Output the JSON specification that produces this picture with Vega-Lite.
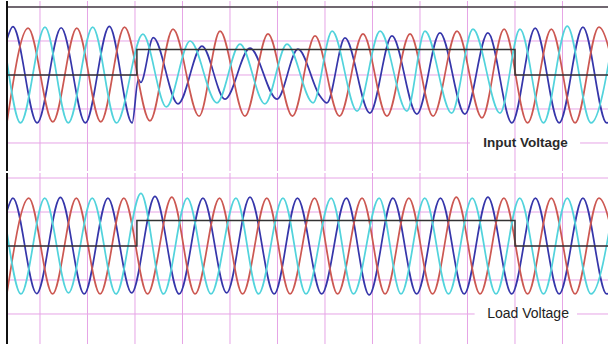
{
  "$schema": "https://vega.github.io/schema/vega-lite/v6.json",
  "padding": 0,
  "spacing": 0,
  "background": "white",
  "config": {
    "view": {"stroke": null}
  },
  "datasets": {
    "vgrid": [{"t":0},{"t":20},{"t":40},{"t":60},{"t":80},{"t":100},{"t":120},{"t":140},{"t":160},{"t":180},{"t":200},{"t":220}],
    "hgrid": [{"v":-200},{"v":-100},{"v":0},{"v":100},{"v":200}],
    "input": [
      {"s":"B","t":-13.9,"v":105},{"s":"B","t":-11.4,"v":142},{"s":"B","t":-1.2,"v":-141},{"s":"B","t":8.9,"v":139},{"s":"B","t":19.1,"v":-141},{"s":"B","t":29.2,"v":143},{"s":"B","t":38.8,"v":-141},{"s":"B","t":41.4,"v":-13},{"s":"B","t":42.4,"v":-22},{"s":"B","t":47.7,"v":110},{"s":"B","t":58.1,"v":-85},{"s":"B","t":68.2,"v":85},{"s":"B","t":77.9,"v":-71},{"s":"B","t":88.4,"v":79},{"s":"B","t":99.8,"v":-71},{"s":"B","t":108.6,"v":76},{"s":"B","t":117.9,"v":-62},{"s":"B","t":120.8,"v":-82},{"s":"B","t":128.4,"v":109},{"s":"B","t":138.9,"v":-112},{"s":"B","t":148.2,"v":115},{"s":"B","t":158.7,"v":-115},{"s":"B","t":168.4,"v":124},{"s":"B","t":178.9,"v":-115},{"s":"B","t":188.6,"v":124},{"s":"B","t":198.7,"v":-141},{"s":"B","t":208.5,"v":138},{"s":"B","t":218.6,"v":-141},{"s":"B","t":228.6,"v":141},{"s":"B","t":238.6,"v":-141},{"s":"B","t":248.6,"v":141},
      {"s":"R","t":-13.9,"v":-139},{"s":"R","t":-5.0,"v":138},{"s":"R","t":5.4,"v":-138},{"s":"R","t":15.5,"v":138},{"s":"R","t":25.6,"v":-138},{"s":"R","t":35.6,"v":141},{"s":"R","t":46.3,"v":-135},{"s":"R","t":56.0,"v":135},{"s":"R","t":67.0,"v":-121},{"s":"R","t":75.8,"v":129},{"s":"R","t":86.3,"v":-121},{"s":"R","t":96.0,"v":121},{"s":"R","t":106.3,"v":-121},{"s":"R","t":115.8,"v":115},{"s":"R","t":126.1,"v":-121},{"s":"R","t":136.0,"v":121},{"s":"R","t":146.1,"v":-121},{"s":"R","t":155.8,"v":121},{"s":"R","t":165.5,"v":-121},{"s":"R","t":175.6,"v":129},{"s":"R","t":186.1,"v":-126},{"s":"R","t":195.4,"v":135},{"s":"R","t":205.3,"v":-141},{"s":"R","t":215.3,"v":135},{"s":"R","t":225.3,"v":-141},{"s":"R","t":235.3,"v":141},{"s":"R","t":245.3,"v":-141},
      {"s":"C","t":-13.9,"v":40},{"s":"C","t":-8.2,"v":-141},{"s":"C","t":2.1,"v":141},{"s":"C","t":11.9,"v":-141},{"s":"C","t":22.2,"v":141},{"s":"C","t":32.2,"v":-141},{"s":"C","t":43.3,"v":120},{"s":"C","t":53.2,"v":-94},{"s":"C","t":63.2,"v":100},{"s":"C","t":74.5,"v":-82},{"s":"C","t":84.2,"v":91},{"s":"C","t":94.7,"v":-85},{"s":"C","t":104.0,"v":91},{"s":"C","t":115.0,"v":-82},{"s":"C","t":123.0,"v":129},{"s":"C","t":133.5,"v":-106},{"s":"C","t":143.2,"v":129},{"s":"C","t":154.5,"v":-106},{"s":"C","t":162.1,"v":129},{"s":"C","t":173.3,"v":-112},{"s":"C","t":182.3,"v":135},{"s":"C","t":193.7,"v":-112},{"s":"C","t":202.1,"v":135},{"s":"C","t":212.0,"v":-141},{"s":"C","t":222.0,"v":144},{"s":"C","t":232.0,"v":-141},{"s":"C","t":242.0,"v":141}
    ],
    "load": [
      {"s":"B","t":-13.9,"v":103},{"s":"B","t":-11.4,"v":141},{"s":"B","t":-1.4,"v":-140},{"s":"B","t":8.6,"v":143},{"s":"B","t":18.6,"v":-141},{"s":"B","t":28.6,"v":141},{"s":"B","t":38.6,"v":-138},{"s":"B","t":48.4,"v":146},{"s":"B","t":58.6,"v":-141},{"s":"B","t":68.6,"v":141},{"s":"B","t":78.6,"v":-138},{"s":"B","t":88.4,"v":144},{"s":"B","t":98.6,"v":-141},{"s":"B","t":108.4,"v":141},{"s":"B","t":118.6,"v":-141},{"s":"B","t":129.0,"v":141},{"s":"B","t":138.6,"v":-144},{"s":"B","t":148.6,"v":141},{"s":"B","t":158.6,"v":-141},{"s":"B","t":168.6,"v":141},{"s":"B","t":178.6,"v":-141},{"s":"B","t":188.6,"v":144},{"s":"B","t":198.6,"v":-141},{"s":"B","t":208.6,"v":141},{"s":"B","t":218.6,"v":-141},{"s":"B","t":228.6,"v":141},{"s":"B","t":238.6,"v":-141},{"s":"B","t":248.6,"v":141},
      {"s":"R","t":-13.9,"v":-139},{"s":"R","t":-4.7,"v":141},{"s":"R","t":5.3,"v":-141},{"s":"R","t":15.3,"v":141},{"s":"R","t":25.3,"v":-141},{"s":"R","t":35.3,"v":141},{"s":"R","t":45.3,"v":-141},{"s":"R","t":55.5,"v":144},{"s":"R","t":65.3,"v":-141},{"s":"R","t":75.6,"v":141},{"s":"R","t":85.3,"v":-141},{"s":"R","t":95.5,"v":141},{"s":"R","t":105.3,"v":-141},{"s":"R","t":115.6,"v":141},{"s":"R","t":125.3,"v":-141},{"s":"R","t":135.6,"v":141},{"s":"R","t":145.3,"v":-141},{"s":"R","t":155.3,"v":141},{"s":"R","t":165.3,"v":-141},{"s":"R","t":175.3,"v":144},{"s":"R","t":185.3,"v":-141},{"s":"R","t":195.3,"v":141},{"s":"R","t":205.3,"v":-141},{"s":"R","t":215.3,"v":141},{"s":"R","t":225.3,"v":-141},{"s":"R","t":235.3,"v":141},{"s":"R","t":245.3,"v":-141},
      {"s":"C","t":-13.9,"v":40},{"s":"C","t":-8.0,"v":-141},{"s":"C","t":2.0,"v":141},{"s":"C","t":12.0,"v":-138},{"s":"C","t":22.0,"v":141},{"s":"C","t":32.0,"v":-141},{"s":"C","t":42.5,"v":155},{"s":"C","t":52.0,"v":-141},{"s":"C","t":62.0,"v":141},{"s":"C","t":72.0,"v":-141},{"s":"C","t":82.5,"v":141},{"s":"C","t":92.0,"v":-141},{"s":"C","t":102.3,"v":141},{"s":"C","t":112.0,"v":-141},{"s":"C","t":122.6,"v":141},{"s":"C","t":132.0,"v":-141},{"s":"C","t":142.8,"v":141},{"s":"C","t":152.0,"v":-141},{"s":"C","t":162.0,"v":141},{"s":"C","t":172.0,"v":-141},{"s":"C","t":182.0,"v":141},{"s":"C","t":192.0,"v":-141},{"s":"C","t":202.0,"v":141},{"s":"C","t":212.0,"v":-141},{"s":"C","t":222.0,"v":141},{"s":"C","t":232.0,"v":-141},{"s":"C","t":242.0,"v":141}
    ],
    "step": [
      {"i":0,"t":-13.9,"v":0},{"i":1,"t":40.8,"v":0},{"i":2,"t":40.8,"v":75},{"i":3,"t":200,"v":75},{"i":4,"t":200,"v":0},{"i":5,"t":240,"v":0}
    ]
  },
  "vconcat": [
    {
      "width": 608,
      "height": 170,
      "layer": [
        {
          "data": {"name": "vgrid"},
          "mark": {"type": "rule", "color": "#e6a4e6", "strokeWidth": 1},
          "encoding": {
            "x": {"field": "t", "type": "quantitative", "scale": {"domain": [-16.842, 239.158], "nice": false, "zero": false}, "axis": null}
          }
        },
        {
          "data": {"name": "hgrid"},
          "mark": {"type": "rule", "color": "#e6a4e6", "strokeWidth": 1},
          "encoding": {
            "x": {"datum": -13.9, "type": "quantitative", "scale": {"domain": [-16.842, 239.158], "nice": false, "zero": false}, "axis": null},
            "x2": {"datum": 239.158},
            "y": {"field": "v", "type": "quantitative", "scale": {"domain": [-282.353, 217.647], "nice": false, "zero": false}, "axis": null}
          }
        },
        {
          "data": {"name": "input"},
          "mark": {"type": "line", "interpolate": "monotone", "strokeWidth": 1.7, "clip": true},
          "encoding": {
            "x": {"field": "t", "type": "quantitative", "scale": {"domain": [-16.842, 239.158], "nice": false, "zero": false}, "axis": null},
            "y": {"field": "v", "type": "quantitative", "scale": {"domain": [-282.353, 217.647], "nice": false, "zero": false}, "axis": null},
            "color": {"field": "s", "type": "nominal", "scale": {"domain": ["C","R","B"], "range": ["#52d3dc","#cc5852","#3636aa"]}, "legend": null}
          }
        },
        {
          "data": {"name": "step"},
          "mark": {"type": "line", "color": "#333333", "strokeWidth": 1.5, "clip": true},
          "encoding": {
            "x": {"field": "t", "type": "quantitative", "scale": {"domain": [-16.842, 239.158], "nice": false, "zero": false}, "axis": null},
            "y": {"field": "v", "type": "quantitative", "scale": {"domain": [-282.353, 217.647], "nice": false, "zero": false}, "axis": null},
            "order": {"field": "i", "type": "quantitative"}
          }
        },
        {
          "data": {"values": [{"t": -13.9, "t2": 239.158, "v": 200}]},
          "mark": {"type": "rule", "color": "#444444", "strokeWidth": 1.5},
          "encoding": {
            "x": {"field": "t", "type": "quantitative", "scale": {"domain": [-16.842, 239.158], "nice": false, "zero": false}, "axis": null},
            "x2": {"field": "t2"},
            "y": {"field": "v", "type": "quantitative", "scale": {"domain": [-282.353, 217.647], "nice": false, "zero": false}, "axis": null}
          }
        },
        {
          "data": {"values": [{"t": -13.9}]},
          "mark": {"type": "rule", "color": "#111111", "strokeWidth": 2},
          "encoding": {
            "x": {"field": "t", "type": "quantitative", "scale": {"domain": [-16.842, 239.158], "nice": false, "zero": false}, "axis": null}
          }
        },
        {
          "data": {"values": [{"t": 181, "t2": 227.4, "v": -200}]},
          "mark": {"type": "rule", "color": "white", "strokeWidth": 4},
          "encoding": {
            "x": {"field": "t", "type": "quantitative", "scale": {"domain": [-16.842, 239.158], "nice": false, "zero": false}, "axis": null},
            "x2": {"field": "t2"},
            "y": {"field": "v", "type": "quantitative", "scale": {"domain": [-282.353, 217.647], "nice": false, "zero": false}, "axis": null}
          }
        },
        {
          "data": {"values": [{"t": 204.4, "v": -200, "label": "Input Voltage"}]},
          "mark": {"type": "text", "font": "Liberation Sans", "fontSize": 13.5, "fontWeight": "bold", "color": "#2a2a2a", "align": "center", "baseline": "middle"},
          "encoding": {
            "x": {"field": "t", "type": "quantitative", "scale": {"domain": [-16.842, 239.158], "nice": false, "zero": false}, "axis": null},
            "y": {"field": "v", "type": "quantitative", "scale": {"domain": [-282.353, 217.647], "nice": false, "zero": false}, "axis": null},
            "text": {"field": "label"}
          }
        }
      ]
    },
    {
      "width": 608,
      "height": 174,
      "layer": [
        {
          "data": {"name": "vgrid"},
          "mark": {"type": "rule", "color": "#e6a4e6", "strokeWidth": 1},
          "encoding": {
            "x": {"field": "t", "type": "quantitative", "scale": {"domain": [-16.842, 239.158], "nice": false, "zero": false}, "axis": null}
          }
        },
        {
          "data": {"name": "hgrid"},
          "mark": {"type": "rule", "color": "#e6a4e6", "strokeWidth": 1},
          "encoding": {
            "x": {"datum": -13.9, "type": "quantitative", "scale": {"domain": [-16.842, 239.158], "nice": false, "zero": false}, "axis": null},
            "x2": {"datum": 239.158},
            "y": {"field": "v", "type": "quantitative", "scale": {"domain": [-297.059, 214.706], "nice": false, "zero": false}, "axis": null}
          }
        },
        {
          "data": {"name": "load"},
          "mark": {"type": "line", "interpolate": "monotone", "strokeWidth": 1.7, "clip": true},
          "encoding": {
            "x": {"field": "t", "type": "quantitative", "scale": {"domain": [-16.842, 239.158], "nice": false, "zero": false}, "axis": null},
            "y": {"field": "v", "type": "quantitative", "scale": {"domain": [-297.059, 214.706], "nice": false, "zero": false}, "axis": null},
            "color": {"field": "s", "type": "nominal", "scale": {"domain": ["C","R","B"], "range": ["#52d3dc","#cc5852","#3636aa"]}, "legend": null}
          }
        },
        {
          "data": {"name": "step"},
          "mark": {"type": "line", "color": "#333333", "strokeWidth": 1.5, "clip": true},
          "encoding": {
            "x": {"field": "t", "type": "quantitative", "scale": {"domain": [-16.842, 239.158], "nice": false, "zero": false}, "axis": null},
            "y": {"field": "v", "type": "quantitative", "scale": {"domain": [-297.059, 214.706], "nice": false, "zero": false}, "axis": null},
            "order": {"field": "i", "type": "quantitative"}
          }
        },
        {
          "data": {"values": [{"t": -13.9}]},
          "mark": {"type": "rule", "color": "#111111", "strokeWidth": 2},
          "encoding": {
            "x": {"field": "t", "type": "quantitative", "scale": {"domain": [-16.842, 239.158], "nice": false, "zero": false}, "axis": null}
          }
        },
        {
          "data": {"values": [{"t": 183, "t2": 226.1, "v": -200}]},
          "mark": {"type": "rule", "color": "white", "strokeWidth": 4},
          "encoding": {
            "x": {"field": "t", "type": "quantitative", "scale": {"domain": [-16.842, 239.158], "nice": false, "zero": false}, "axis": null},
            "x2": {"field": "t2"},
            "y": {"field": "v", "type": "quantitative", "scale": {"domain": [-297.059, 214.706], "nice": false, "zero": false}, "axis": null}
          }
        },
        {
          "data": {"values": [{"t": 205.5, "v": -200, "label": "Load Voltage"}]},
          "mark": {"type": "text", "font": "Liberation Sans", "fontSize": 14, "fontWeight": "normal", "color": "#222222", "align": "center", "baseline": "middle"},
          "encoding": {
            "x": {"field": "t", "type": "quantitative", "scale": {"domain": [-16.842, 239.158], "nice": false, "zero": false}, "axis": null},
            "y": {"field": "v", "type": "quantitative", "scale": {"domain": [-297.059, 214.706], "nice": false, "zero": false}, "axis": null},
            "text": {"field": "label"}
          }
        }
      ]
    }
  ]
}
